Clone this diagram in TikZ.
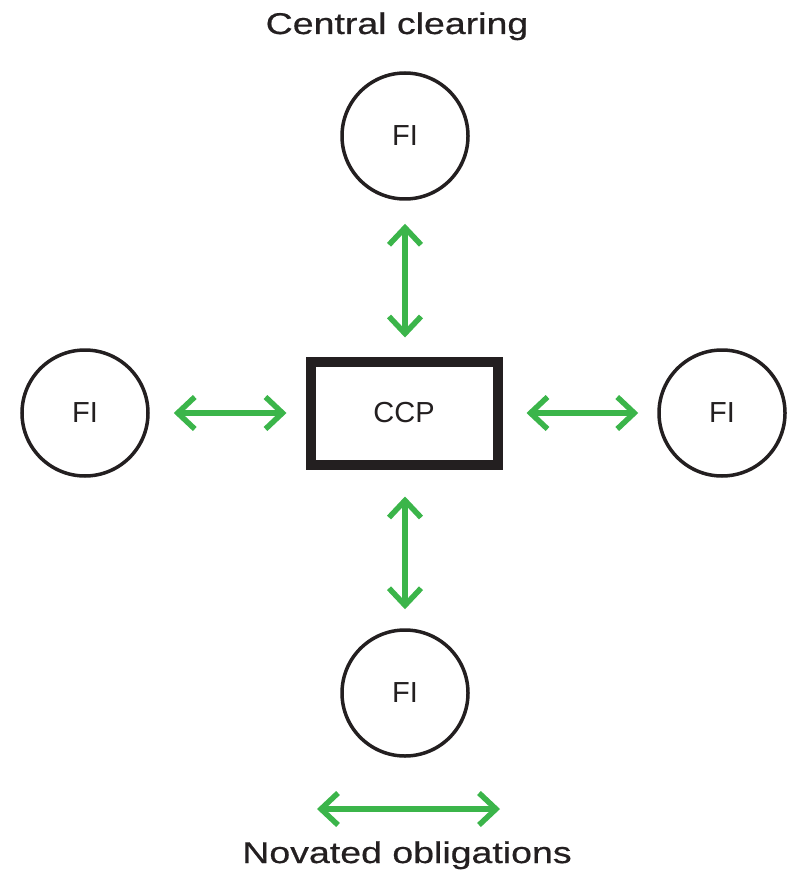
\documentclass[tikz,border=0pt]{standalone}
\usepackage{fontspec}
\setmainfont{Liberation Sans}
\newfontfamily\titlefont[FakeStretch=1.25,FakeBold=0.6]{Liberation Sans}
\usetikzlibrary{arrows.meta}
\definecolor{arrgreen}{RGB}{59,181,74}
\definecolor{ink}{RGB}{35,31,32}
\tikzset{
  fi/.style={circle, draw=ink, line width=3.5pt, minimum size=126pt, inner sep=0pt,
    text=ink, font=\fontsize{29}{34}\selectfont},
  ccpbox/.style={rectangle, draw=ink, line width=10pt, minimum width=187pt, minimum height=103pt,
    text=ink, font=\fontsize{29}{34}\selectfont},
  arr/.style={draw=arrgreen, line width=5.5pt,
    {Straight Barb[length=17pt,width=32pt]}-{Straight Barb[length=17pt,width=32pt]}},
  ttl/.style={anchor=base, text=ink, font=\titlefont\fontsize{30}{36}\selectfont, inner sep=0pt}
}
\begin{document}
\begin{tikzpicture}[x=1pt,y=-1pt]
\useasboundingbox (0,0) rectangle (788,877);
\node[ttl] (title) at (397,34) {Central clearing};
\node[fi] (top) at (405,136) {FI};
\node[fi] (left) at (85,413) {FI};
\node[fi] (right) at (722,413) {FI};
\node[fi] (bot) at (405,693) {FI};
\node[ccpbox] (ccp) at (404,413) {CCP};
\draw[arr, shorten <=23pt, shorten >=19pt] (top.south) -- (top.south |- ccp.north);
\draw[arr, shorten <=24pt, shorten >=19pt] (left.east) -- (left.east -| ccp.west);
\draw[arr, shorten <=24pt, shorten >=19pt] (ccp.east) -- (ccp.east -| right.west);
\draw[arr, shorten <=27pt, shorten >=19pt] (ccp.south -| bot.north) -- (bot.north);
\coordinate (leg1) at (317,809);
\coordinate (leg2) at (500,809);
\draw[arr] (leg1) -- (leg2);
\node[ttl] (legend) at (407,863) {Novated obligations};
\end{tikzpicture}
\end{document}
